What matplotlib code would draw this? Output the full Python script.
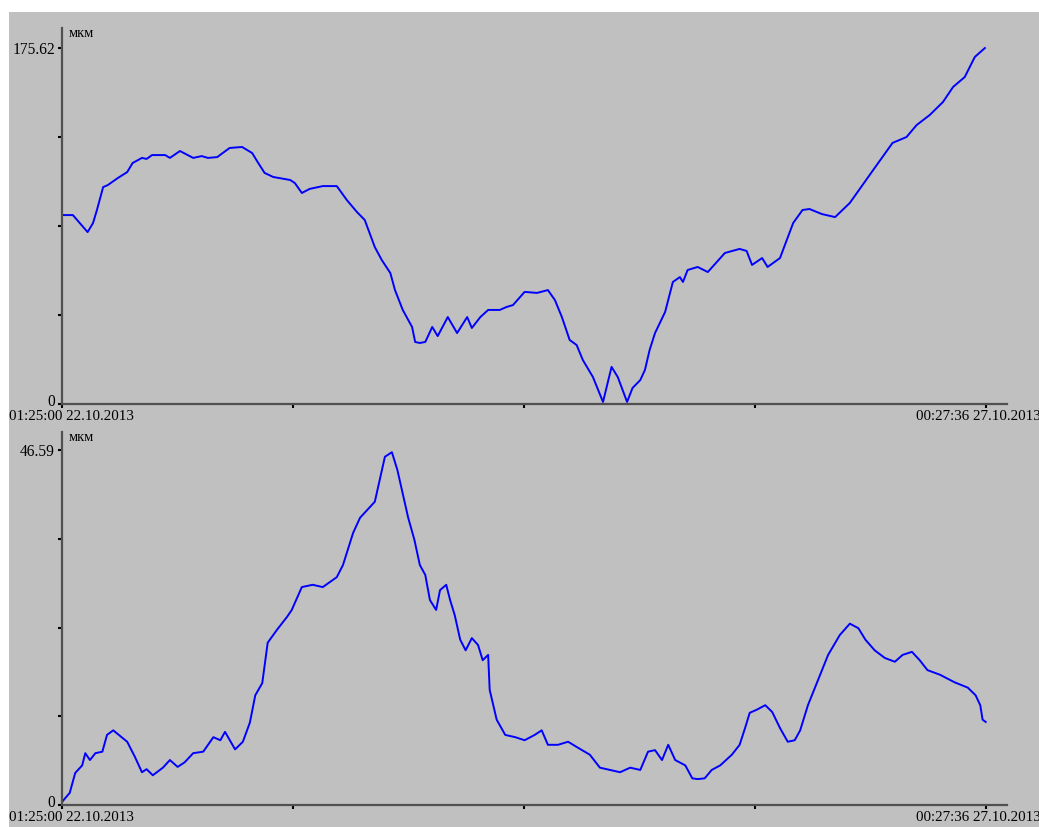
import matplotlib.pyplot as plt
from matplotlib.patches import Rectangle
from matplotlib.transforms import ScaledTranslation

# time since 01:25:00 22.10.2013, hours
t_end = 119.04
start_label = '01:25:00 22.10.2013'
end_label = '00:27:36 27.10.2013'
unit = 'мкм'

# upper channel, мкм
top_max = 175.62
top_t = [0.0, 1.4, 3.3, 4.0, 4.5, 5.3, 5.9, 7.2, 8.4, 9.1, 10.3, 10.9, 11.6, 13.3, 13.9,
         15.2, 16.9, 18.0, 18.8, 20.0, 20.7, 21.6, 23.2, 24.5, 25.2, 26.1, 27.2, 29.4, 30.0,
         30.9, 31.9, 33.6, 35.4, 36.7, 38.0, 39.0, 40.3, 41.2, 42.3, 42.9, 43.9, 45.1, 45.5,
         46.1, 46.8, 47.7, 48.4, 49.7, 50.9, 52.2, 52.8, 53.9, 54.9, 56.4, 57.3, 58.1, 59.6,
         61.2, 62.6, 63.5, 64.4, 65.4, 66.3, 67.1, 68.4, 69.7, 70.8, 71.6, 72.8, 73.5, 74.5,
         75.1, 75.7, 76.4, 77.7, 78.7, 79.6, 80.0, 80.6, 81.9, 83.2, 85.4, 87.3, 88.2, 88.9,
         90.2, 90.9, 92.5, 94.2, 95.4, 96.3, 97.9, 99.6, 101.5, 104.5, 107.0, 108.8, 110.1,
         111.8, 113.5, 114.8, 116.3, 117.6, 118.9]
top_v = [93.2, 93.2, 84.8, 89.3, 95.7, 107.0, 108.0, 111.5, 114.4, 118.9, 121.4, 120.9, 122.8,
         122.8, 121.4, 124.8, 121.4, 122.3, 121.4, 121.8, 123.8, 126.3, 126.8, 123.8, 119.4,
         114.0, 112.0, 110.5, 109.0, 104.1, 106.1, 107.5, 107.5, 100.6, 94.7, 90.8, 77.4, 71.0,
         64.6, 56.2, 46.4, 38.0, 30.6, 30.1, 30.6, 38.0, 33.5, 42.9, 35.0, 42.9, 37.5, 42.9,
         46.4, 46.4, 47.9, 48.8, 55.3, 54.8, 56.2, 51.3, 42.9, 31.6, 29.1, 21.7, 13.3, 1.0,
         18.3, 13.3, 1.0, 7.9, 11.8, 16.8, 26.6, 35.0, 45.4, 60.2, 62.6, 60.2, 66.1, 67.6, 65.1,
         74.5, 76.5, 75.5, 68.6, 72.0, 67.6, 72.0, 89.3, 95.7, 96.2, 93.7, 92.2, 99.2, 115.4,
         128.8, 131.7, 137.6, 142.6, 149.0, 156.4, 161.3, 171.2, 175.6]

# lower channel, мкм
bot_max = 46.59
bot_t = [0.0, 1.0, 1.7, 2.6, 3.0, 3.6, 4.3, 5.2, 5.8, 6.6, 8.4, 9.4, 10.3, 10.9, 11.7, 13.0,
         13.9, 14.9, 15.8, 16.9, 18.2, 19.5, 20.4, 21.0, 22.3, 23.3, 24.2, 24.9, 25.8, 26.5,
         27.7, 29.0, 29.6, 30.9, 32.3, 33.6, 35.4, 36.2, 37.5, 38.4, 40.3, 41.6, 42.5, 43.2,
         43.8, 44.6, 45.4, 46.1, 46.8, 47.4, 48.2, 48.7, 49.5, 50.0, 50.6, 51.3, 52.0, 52.8,
         53.6, 54.2, 54.9, 55.1, 56.0, 57.1, 58.4, 59.6, 60.9, 61.8, 62.6, 63.9, 65.2, 66.5,
         68.0, 69.3, 70.6, 71.9, 73.2, 74.5, 75.5, 76.4, 77.3, 78.1, 79.0, 80.3, 81.2, 81.9,
         82.8, 83.7, 84.8, 86.3, 87.3, 88.0, 88.6, 89.5, 90.6, 91.5, 92.5, 93.5, 94.4, 95.1,
         96.1, 97.4, 98.7, 100.2, 101.5, 102.6, 103.5, 104.7, 106.0, 107.3, 108.3, 109.5,
         110.5, 111.5, 113.1, 115.0, 116.7, 117.7, 118.3, 118.6, 119.0]
bot_v = [0.4, 1.6, 4.2, 5.2, 6.8, 5.9, 6.8, 7.0, 9.2, 9.8, 8.3, 6.3, 4.3, 4.7, 3.9, 4.9, 5.9,
         5.0, 5.6, 6.8, 7.0, 8.9, 8.5, 9.6, 7.3, 8.3, 10.8, 14.4, 16.0, 21.3, 23.0, 24.7, 25.6,
         28.6, 28.9, 28.6, 29.9, 31.5, 35.7, 37.7, 39.8, 45.7, 46.3, 44.0, 41.3, 37.7, 34.8,
         31.5, 30.2, 26.9, 25.6, 28.2, 28.9, 26.9, 24.9, 21.7, 20.3, 21.9, 21.0, 19.0, 19.7,
         15.1, 11.2, 9.2, 8.9, 8.5, 9.2, 9.8, 7.9, 7.9, 8.3, 7.5, 6.6, 4.9, 4.6, 4.3, 4.9, 4.6,
         7.0, 7.2, 5.9, 7.9, 5.9, 5.2, 3.5, 3.4, 3.5, 4.6, 5.2, 6.6, 7.9, 10.1, 12.1, 12.5, 13.1,
         12.2, 10.1, 8.3, 8.5, 9.8, 13.1, 16.4, 19.7, 22.3, 23.8, 23.2, 21.7, 20.3, 19.3, 18.8,
         19.7, 20.1, 19.0, 17.7, 17.1, 16.1, 15.4, 14.4, 13.1, 11.2, 10.9]

panel_bg = '#c0c0c0'
plt.rcParams['font.family'] = ['Liberation Serif', 'DejaVu Serif']

fig = plt.figure(figsize=(10.39, 8.27), dpi=100, facecolor='white')
fig.patches.append(Rectangle((9 / 1039, 0), 1, 1 - 12 / 827, transform=fig.transFigure,
                             facecolor=panel_bg, edgecolor='none', zorder=-10))

ax_top = fig.add_axes([62 / 1039, 1 - 404 / 827, 945 / 1039, 376 / 827])
ax_bot = fig.add_axes([62 / 1039, 1 - 805 / 827, 945 / 1039, 373 / 827])


def shift(label, dx, dy):
    # move a tick label by dx, dy pixels
    label.set_transform(label.get_transform() + ScaledTranslation(dx / 100, dy / 100, fig.dpi_scale_trans))


def style_panel(ax, t, v, vmax, top_px):
    ax.set_facecolor('none')
    ax.plot(t, v, color='#0000ff', linewidth=1.4)
    ax.set_xlim(0, t_end * 945 / 924)
    ax.set_ylim(0, vmax * top_px)
    for s in ['top', 'right']:
        ax.spines[s].set_visible(False)
    for s in ['left', 'bottom']:
        ax.spines[s].set_color('#505050')
        ax.spines[s].set_linewidth(1.6)
    ax.set_yticks([vmax * i / 4 for i in range(5)])
    ax.set_yticklabels(['0', '', '', '', '%.2f' % vmax])
    ax.set_xticks([t_end * i / 4 for i in range(5)])
    ax.set_xticklabels([start_label, '', '', '', end_label])
    ax.tick_params(axis='both', direction='out', length=3, width=1.5, color='black',
                   labelsize=11.2, pad=2)
    ax.tick_params(axis='x', labelsize=10.8, pad=1)
    # nudge the end labels inwards, lift the zero label
    xl = ax.get_xticklabels()
    shift(xl[0], 9, 0)
    shift(xl[-1], -8, 0)
    shift(ax.get_yticklabels()[0], 0, 4)
    ax.text(0.0074, 1 - 9 / (top_px * 356 if vmax > 100 else top_px * 355), unit,
            transform=ax.transAxes, fontsize=10.5, va='baseline', ha='left')


style_panel(ax_top, top_t, top_v, top_max, 376 / 356)
style_panel(ax_bot, bot_t, bot_v, bot_max, 373 / 355)

plt.savefig('out.png', dpi=100, facecolor=fig.get_facecolor())
